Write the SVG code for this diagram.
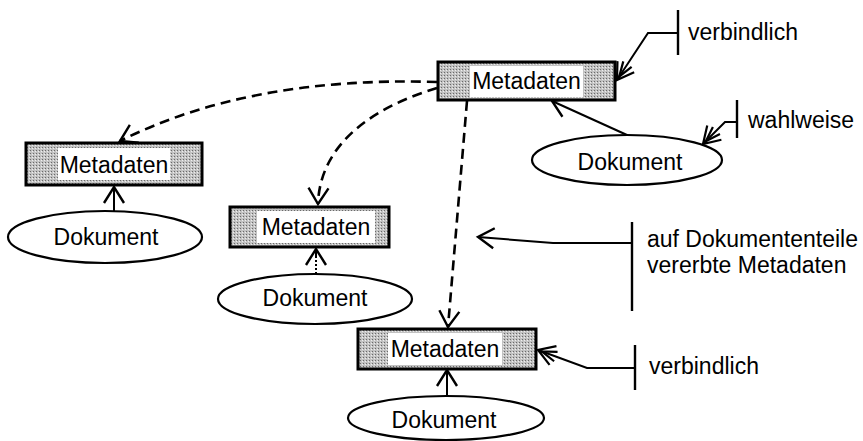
<svg xmlns="http://www.w3.org/2000/svg" width="863" height="441" viewBox="0 0 863 441">
<defs>
<style>
text{font-family:"Liberation Sans",Arial,sans-serif;font-size:23px;fill:#000}
.box{fill:url(#stip);stroke:#000;stroke-width:3}
.lbl{fill:#fff;stroke:none}
.doc{fill:#fff;stroke:#000;stroke-width:2.2}
.ln{fill:none;stroke:#000;stroke-width:2}
.dash{fill:none;stroke:#000;stroke-width:2.6;stroke-dasharray:10 6}
.bar{fill:none;stroke:#000;stroke-width:2.4}
</style>
<pattern id="stip" width="3" height="3" patternUnits="userSpaceOnUse">
<rect width="3" height="3" fill="#c2c2c2"/>
<rect x="0" y="0" width="1" height="1" fill="#6a6a6a"/>
<rect x="2" y="1" width="1" height="1" fill="#eeeeee"/>
</pattern>
<marker id="ah" markerUnits="userSpaceOnUse" markerWidth="30" markerHeight="30" refX="0" refY="0" viewBox="-20 -15 25 30" orient="auto">
<path d="M-16,-10 L0,0 L-16,10" fill="none" stroke="#000" stroke-width="2.4"/>
</marker>
<marker id="ah2" markerUnits="userSpaceOnUse" markerWidth="30" markerHeight="30" refX="0" refY="0" viewBox="-22 -15 27 30" orient="auto">
<path d="M-16,-10 L0,0 L-16,10 M-19,-5 L-4,0 L-19,5" fill="none" stroke="#000" stroke-width="2.2"/>
</marker>
</defs>
<rect width="863" height="441" fill="#fff"/>

<g id="connectors">
<path class="dash" d="M437,82 Q250,76 120,141" marker-end="url(#ah)"/>
<path class="dash" d="M437,88 C380,105 320,140 318,204" marker-end="url(#ah)"/>
<path class="dash" d="M467,101 L448,327" marker-end="url(#ah)"/>
<path class="ln" d="M114,211 L114,187" marker-end="url(#ah)"/>
<path class="ln" d="M316,274 L316,252" stroke-dasharray="2 2"/>
<path class="ln" d="M316,256 L316,249" marker-end="url(#ah)"/>
<path class="ln" d="M447,396 L447,370" marker-end="url(#ah)"/>
<path class="ln" d="M627,135 L552,101" marker-end="url(#ah)"/>
</g>

<g id="callout-verbindlich-top">
<path class="bar" d="M678,10 L678,55"/>
<path class="ln" d="M678,33 L648,33 L617,80" marker-end="url(#ah2)"/>
<text x="688" y="40">verbindlich</text>
</g>
<g id="callout-wahlweise">
<path class="bar" d="M737,100 L737,138"/>
<path class="ln" d="M737,122 L725,122 L703,144" marker-end="url(#ah2)"/>
<text x="748" y="128">wahlweise</text>
</g>
<g id="callout-vererbt">
<path class="bar" d="M632,222 L632,311"/>
<path class="ln" d="M632,243 L553,243 L478,237" marker-end="url(#ah)"/>
<text x="647" y="247">auf Dokumententeile</text>
<text x="647" y="273">vererbte Metadaten</text>
</g>
<g id="callout-verbindlich-bottom">
<path class="bar" d="M635,345 L635,390"/>
<path class="ln" d="M635,368 L587,368 L538,350" marker-end="url(#ah2)"/>
<text x="649" y="374">verbindlich</text>
</g>

<g id="meta-top">
<rect class="box" x="438" y="62" width="177" height="38"/>
<rect class="lbl" x="470" y="66" width="113" height="31"/>
<text x="526.5" y="89" text-anchor="middle">Metadaten</text>
</g>
<g id="doc-top">
<ellipse class="doc" cx="627" cy="160" rx="95" ry="25"/>
<text x="630" y="170" text-anchor="middle">Dokument</text>
</g>
<g id="meta-left">
<rect class="box" x="26" y="143" width="176" height="42"/>
<rect class="lbl" x="58" y="148" width="112" height="32"/>
<text x="114" y="173" text-anchor="middle">Metadaten</text>
</g>
<g id="doc-left">
<ellipse class="doc" cx="105" cy="237" rx="97" ry="26"/>
<text x="106" y="245" text-anchor="middle">Dokument</text>
</g>
<g id="meta-mid">
<rect class="box" x="230" y="207" width="159" height="40"/>
<rect class="lbl" x="257" y="211" width="118" height="32"/>
<text x="316" y="235" text-anchor="middle">Metadaten</text>
</g>
<g id="doc-mid">
<ellipse class="doc" cx="315" cy="299" rx="97" ry="25"/>
<text x="315" y="306" text-anchor="middle">Dokument</text>
</g>
<g id="meta-bottom">
<rect class="box" x="358" y="329" width="178" height="40"/>
<rect class="lbl" x="388" y="333" width="114" height="32"/>
<text x="445" y="357" text-anchor="middle">Metadaten</text>
</g>
<g id="doc-bottom">
<ellipse class="doc" cx="446" cy="418" rx="98" ry="22"/>
<text x="444" y="428" text-anchor="middle">Dokument</text>
</g>
</svg>
